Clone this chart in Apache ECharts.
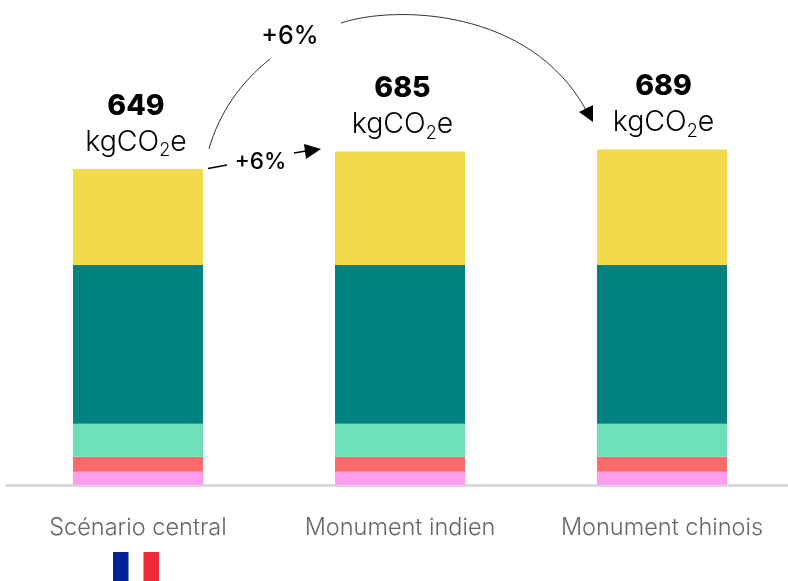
<!DOCTYPE html>
<html><head><meta charset="utf-8">
<script src="https://cdn.jsdelivr.net/npm/echarts@6/dist/echarts.min.js"></script>
<style>html,body{margin:0;padding:0;background:#fff;overflow:hidden;width:788px;height:581px}#c{width:800px;height:581px}</style></head>
<body><div id="c"></div>
<script>
const categories = ['Scénario central', 'Monument indien', 'Monument chinois'];
const pinkValues = [27, 27, 27];
const redValues = [31, 31, 31];
const mintValues = [68, 68, 68];
const tealValues = [326, 326, 326];
const yellowValues = [197, 233, 237];
const totals = [649, 685, 689];
const deltaLabel = '+6%';
const F = 'Inter, sans-serif';

const chart = echarts.init(document.getElementById('c'), null, {renderer: 'canvas'});
const mk = (name, data, color) => ({name, type: 'bar', stack: 't', data, barWidth: 130, itemStyle: {color}, silent: true});
const labelShift = [-2, 2.5, 1.5];
const topSeries = mk('yellow', yellowValues.map((value, i) => ({value, label: {offset: [labelShift[i], 0]}})), '#F2DA4A');
topSeries.label = {
  show: true, position: 'top', distance: 9, align: 'center',
  formatter: p => `{t|${totals[p.dataIndex]}}\n{u|kgCO}{s|2}{u|e}`,
  rich: {
    t: {fontFamily: F, fontSize: 28.5, fontWeight: 800, color: '#000', lineHeight: 36, align: 'center'},
    u: {fontFamily: F, fontSize: 28.5, fontWeight: 300, color: '#000', lineHeight: 36},
    s: {fontFamily: F, fontSize: 18, fontWeight: 300, color: '#000', lineHeight: 36, verticalAlign: 'bottom'}
  }
};
const line = {stroke: '#333', lineWidth: 1, fill: null};
chart.setOption({
  animation: false,
  backgroundColor: '#fff',
  grid: {left: 7, right: 7, top: 46.8, bottom: 96, containLabel: false},
  xAxis: {
    type: 'category', data: categories, offset: 1,
    axisLine: {lineStyle: {color: '#DADADA', width: 3}},
    axisTick: {show: false},
    axisLabel: {interval: 0, margin: 30, color: '#666', fontFamily: F, fontSize: 23.5, fontWeight: 300}
  },
  yAxis: {type: 'value', min: 0, max: 900, show: false, splitLine: {show: false}},
  series: [mk('pink', pinkValues, '#FF9DEE'), mk('red', redValues, '#FF6B6B'), mk('mint', mintValues, '#6DE0B8'), mk('teal', tealValues, '#008380'), topSeries],
  graphic: [
    {type: 'bezierCurve', silent: true, shape: {x1: 209, y1: 149, cpx1: 219, cpy1: 113, cpx2: 241, cpy2: 82, x2: 270, y2: 59}, style: line},
    {type: 'bezierCurve', silent: true, shape: {x1: 341, y1: 23, cpx1: 395, cpy1: 5, cpx2: 530, cpy2: 8, x2: 586, y2: 110}, style: line},
    {type: 'polygon', silent: true, shape: {points: [[593, 122], [579, 112], [593, 105]]}, style: {fill: '#000'}},
    {type: 'line', silent: true, shape: {x1: 208, y1: 168.5, x2: 227, y2: 165}, style: {stroke: '#000', lineWidth: 1.3}},
    {type: 'line', silent: true, shape: {x1: 294, y1: 153, x2: 306, y2: 151}, style: {stroke: '#000', lineWidth: 1.3}},
    {type: 'polygon', silent: true, shape: {points: [[321, 149], [304, 144], [306, 159]]}, style: {fill: '#000'}},
    {type: 'text', silent: true, x: 290, y: 36, style: {text: deltaLabel, fontFamily: F, fontSize: 25, fontWeight: 500, fill: '#000', align: 'center', verticalAlign: 'middle'}},
    {type: 'text', silent: true, x: 260.5, y: 162, style: {text: deltaLabel, fontFamily: F, fontSize: 22.5, fontWeight: 500, fill: '#000', align: 'center', verticalAlign: 'middle'}},
    {type: 'rect', silent: true, shape: {x: 113, y: 552, width: 15.5, height: 29}, style: {fill: '#002395'}},
    {type: 'rect', silent: true, shape: {x: 143.5, y: 552, width: 15.5, height: 29}, style: {fill: '#EE2939'}}
  ]
});
</script></body></html>
